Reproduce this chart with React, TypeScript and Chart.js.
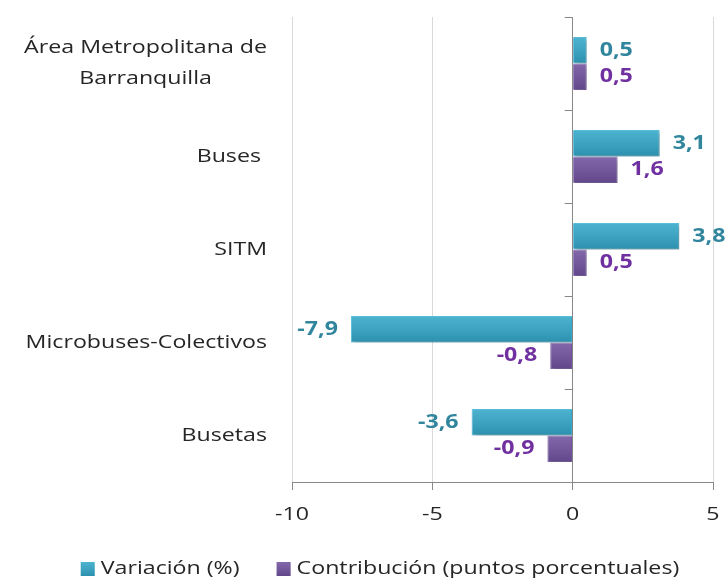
import React, { useEffect, useRef } from "react";
import { Chart, registerables } from "chart.js";

Chart.register(...registerables);

const categories: string[][] = [
  ["Área Metropolitana de", "Barranquilla"],
  ["Buses "],
  ["SITM"],
  ["Microbuses-Colectivos"],
  ["Busetas"],
];
const variacion = [0.5, 3.1, 3.8, -7.9, -3.6];
const contribucion = [0.5, 1.6, 0.5, -0.8, -0.9];
const seriesNames = ["Variación (%)", "Contribución (puntos porcentuales)"];
const xTicks = [-10, -5, 0, 5];

const FONT = "'Open Sans', sans-serif";
const SX = 1.22; // horizontal stretch of the reference's text
const TEXT = "#262626";
const CYAN = "#33A8CA";
const PURPLE = "#7153A0";
const CYAN_LBL = "#31869E";
const PURPLE_LBL = "#7030A0";
const seriesColors = [CYAN, PURPLE];

function drawText(ctx: CanvasRenderingContext2D, t: string, x: number, y: number, align: CanvasTextAlign) {
  ctx.save();
  ctx.translate(x, y);
  ctx.scale(SX, 1);
  ctx.textAlign = align;
  ctx.textBaseline = "middle";
  ctx.fillText(t, 0, 0);
  ctx.restore();
}
function textW(ctx: CanvasRenderingContext2D, t: string) {
  return ctx.measureText(t).width * SX;
}

const labelPlugin = {
  id: "customLabels",
  afterDatasetsDraw(chart: any) {
    const ctx = chart.ctx;
    ctx.save();
    chart.data.datasets.forEach((_ds: any, di: number) => {
      const meta = chart.getDatasetMeta(di);
      meta.data.forEach((bar: any) => {
        const top = bar.y - bar.height / 2;
        const bottom = bar.y + bar.height / 2;
        const l = Math.min(bar.x, bar.base);
        const w = Math.abs(bar.x - bar.base);
        const g = ctx.createLinearGradient(0, top, 0, bottom);
        g.addColorStop(0, "rgba(255,255,255,0.12)");
        g.addColorStop(1, "rgba(0,0,0,0.14)");
        ctx.fillStyle = g;
        ctx.fillRect(l + 1, top + 1, w - 2, bottom - top - 2);
      });
    });
    ctx.restore();
  },
  afterDraw(chart: any) {
    const ctx: CanvasRenderingContext2D = chart.ctx;
    const y = chart.scales.y;
    const x = chart.scales.x;
    const area = chart.chartArea;
    ctx.save();
    // category labels
    ctx.font = `19px ${FONT}`;
    ctx.fillStyle = TEXT;
    const right = area.left - 25;
    categories.forEach((lines, i) => {
      const cy = y.getPixelForValue(i);
      const maxW = Math.max(...lines.map((l) => textW(ctx, l)));
      const lh = 31;
      const start = cy - ((lines.length - 1) * lh) / 2;
      lines.forEach((l, j) => drawText(ctx, l, right - maxW / 2, start + j * lh, "center"));
    });
    // x tick labels
    xTicks.forEach((v) => drawText(ctx, String(v), x.getPixelForValue(v), area.bottom + 33, "center"));
    // tick marks on zero line
    const x0 = x.getPixelForValue(0);
    ctx.strokeStyle = "#888888";
    ctx.lineWidth = 1;
    for (let i = 0; i <= categories.length; i++) {
      const py = Math.round(y.getPixelForValue(i - 0.5)) + 0.5;
      ctx.beginPath();
      ctx.moveTo(x0 - 8, py);
      ctx.lineTo(x0, py);
      ctx.stroke();
    }
    // legend
    const box = 14;
    const gapBox = 6;
    const gapItem = 37;
    const widths = seriesNames.map((n) => textW(ctx, n));
    const total = widths.reduce((a, w) => a + box + gapBox + w, 0) + gapItem * (seriesNames.length - 1);
    let lx = chart.width / 2 + 16 - total / 2;
    const ly = chart.height - 13;
    seriesNames.forEach((n, i) => {
      ctx.fillStyle = seriesColors[i];
      ctx.fillRect(lx, ly - box / 2, box, box);
      const g = ctx.createLinearGradient(0, ly - box / 2, 0, ly + box / 2);
      g.addColorStop(0, "rgba(255,255,255,0.12)");
      g.addColorStop(1, "rgba(0,0,0,0.14)");
      ctx.fillStyle = g;
      ctx.fillRect(lx, ly - box / 2, box, box);
      ctx.fillStyle = TEXT;
      drawText(ctx, n, lx + box + gapBox, ly, "left");
      lx += box + gapBox + widths[i] + gapItem;
    });
    // data labels
    ctx.font = `bold 19px ${FONT}`;
    chart.data.datasets.forEach((ds: any, di: number) => {
      const meta = chart.getDatasetMeta(di);
      ctx.fillStyle = di === 0 ? CYAN_LBL : PURPLE_LBL;
      meta.data.forEach((bar: any, i: number) => {
        const v = ds.data[i];
        const txt = v.toFixed(1).replace(".", ",");
        if (v >= 0) drawText(ctx, txt, bar.x + 13, bar.y, "left");
        else drawText(ctx, txt, bar.x - 13, bar.y, "right");
      });
    });
    ctx.restore();
  },
};

const shadowPlugin = {
  id: "barShadow",
  beforeDatasetsDraw(chart: any) {
    const ctx = chart.ctx;
    ctx.save();
    ctx.shadowColor = "rgba(0,0,0,0.3)";
    ctx.shadowBlur = 4;
    ctx.shadowOffsetX = 2;
    ctx.shadowOffsetY = 2;
  },
  afterDatasetsDraw(chart: any) {
    chart.ctx.restore();
  },
};

export default function App() {
  const ref = useRef<HTMLCanvasElement>(null);
  useEffect(() => {
    document.body.style.margin = "0";
    if (!ref.current) return;
    const chart = new Chart(ref.current, {
      type: "bar",
      data: {
        labels: categories.map((c) => c.join(" ")),
        datasets: [
          {
            label: seriesNames[0],
            data: variacion,
            backgroundColor: CYAN,
            borderColor: "#5BC3DE",
            borderWidth: 1,
            categoryPercentage: 0.57,
            barPercentage: 1,
          },
          {
            label: seriesNames[1],
            data: contribucion,
            backgroundColor: PURPLE,
            borderColor: "#8D72B8",
            borderWidth: 1,
            categoryPercentage: 0.57,
            barPercentage: 1,
          },
        ],
      },
      options: {
        indexAxis: "y",
        animation: false,
        responsive: false,
        layout: { padding: { left: 0, right: 15, top: 17, bottom: 0 } },
        scales: {
          x: {
            min: -10,
            max: 5,
            afterBuildTicks: (s: any) => {
              s.ticks = xTicks.map((v) => ({ value: v }));
            },
            afterFit: (s: any) => {
              s.height = 100;
            },
            ticks: { display: false },
            grid: {
              color: (c: any) => (c.tick && c.tick.value === 0 ? "#888888" : "#D9D9D9"),
              tickColor: "#888888",
              tickLength: 8,
            },
            border: { color: "#888888" },
          },
          y: {
            afterFit: (s: any) => {
              s.width = 292;
            },
            ticks: { display: false },
            grid: { display: false },
            border: { display: false },
          },
        },
        plugins: {
          legend: { display: false },
          tooltip: { enabled: false },
        },
      },
      plugins: [shadowPlugin, labelPlugin],
    });
    return () => chart.destroy();
  }, []);
  return <canvas ref={ref} width={728} height={582} style={{ display: "block" }} />;
}
